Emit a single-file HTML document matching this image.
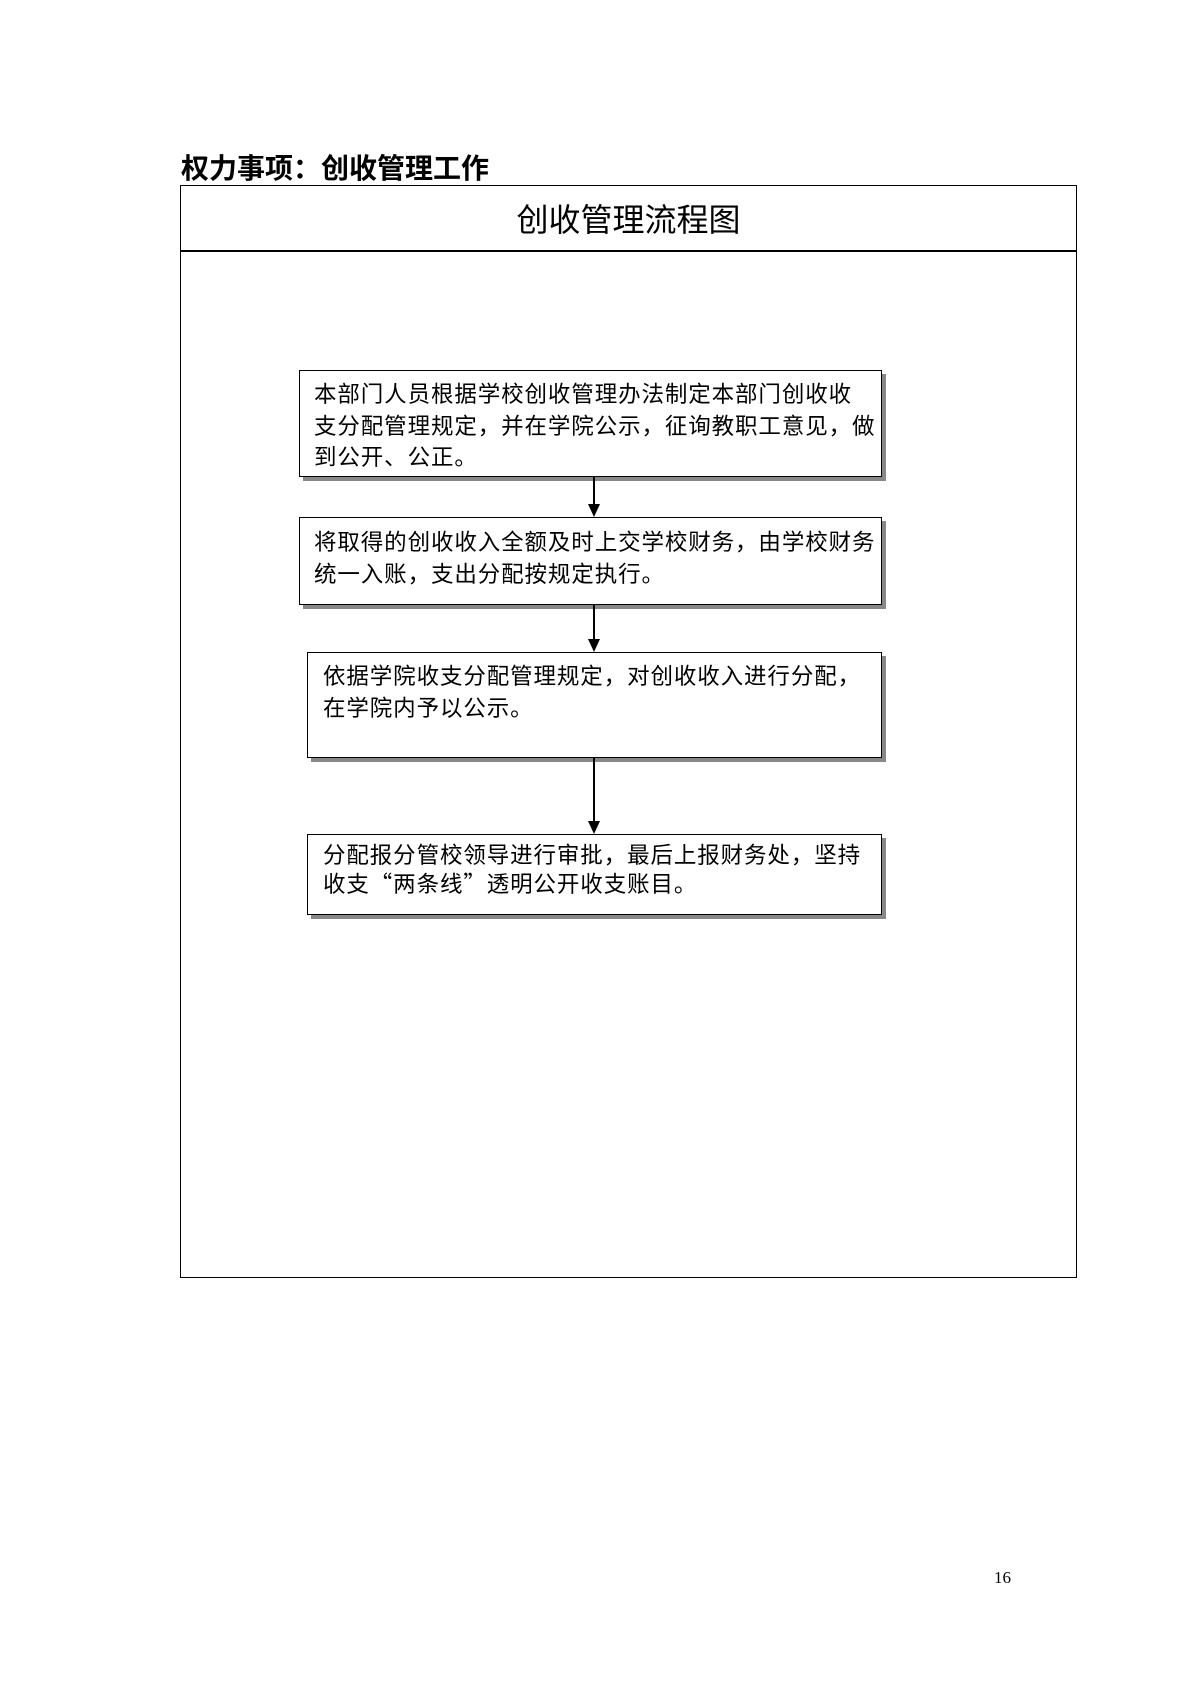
<!DOCTYPE html>
<html><head><meta charset="utf-8"><style>
body{margin:0;background:#fff;}
.p{position:relative;width:1191px;height:1684px;overflow:hidden;font-family:"Liberation Serif","Noto Sans CJK SC",serif;color:#000;}
.a{position:absolute;}
.box{position:absolute;border:1.5px solid #000;background:#fff;box-shadow:4px 4px 0 #888;box-sizing:border-box;}
.t{position:absolute;font-size:22.5px;line-height:31.5px;white-space:nowrap;font-family:"Noto Sans CJK SC",sans-serif;letter-spacing:0;}
.t div{height:31.5px;}
.t span{display:inline-block;width:23.4px;}
.v{position:absolute;left:593px;width:1.5px;background:#000;}
.h{position:absolute;left:588px;width:0;height:0;border-left:6px solid transparent;border-right:6px solid transparent;border-top:13px solid #000;}
</style></head><body><div class="p">
<div class="a" style="left:181px;top:148px;font-size:28px;font-weight:bold;font-family:'Noto Sans CJK SC',sans-serif;line-height:38px;white-space:nowrap;">权力事项：创收管理工作</div>
<div class="a" style="left:180px;top:185px;width:897px;height:1093px;border:1.5px solid #000;box-sizing:border-box;"></div>
<div class="a" style="left:180px;top:250px;width:897px;height:1.5px;background:#000;"></div>
<div class="a" style="left:180px;top:197px;width:897px;text-align:center;font-size:32px;line-height:42px;font-family:'Noto Sans CJK SC',sans-serif;">创收管理流程图</div>

<div class="box" style="left:299px;top:370px;width:583px;height:107px;"></div>
<div class="t" style="left:314px;top:378px;">
<div><span>本</span><span>部</span><span>门</span><span>人</span><span>员</span><span>根</span><span>据</span><span>学</span><span>校</span><span>创</span><span>收</span><span>管</span><span>理</span><span>办</span><span>法</span><span>制</span><span>定</span><span>本</span><span>部</span><span>门</span><span>创</span><span>收</span><span>收</span></div>
<div><span>支</span><span>分</span><span>配</span><span>管</span><span>理</span><span>规</span><span>定</span><span>，</span><span>并</span><span>在</span><span>学</span><span>院</span><span>公</span><span>示</span><span>，</span><span>征</span><span>询</span><span>教</span><span>职</span><span>工</span><span>意</span><span>见</span><span>，</span><span>做</span></div>
<div><span>到</span><span>公</span><span>开</span><span>、</span><span>公</span><span>正</span><span>。</span></div>
</div>
<div class="v" style="top:477px;height:28px;"></div><div class="h" style="top:504px;"></div>

<div class="box" style="left:299px;top:517px;width:583px;height:88px;"></div>
<div class="t" style="left:314px;top:526px;">
<div><span>将</span><span>取</span><span>得</span><span>的</span><span>创</span><span>收</span><span>收</span><span>入</span><span>全</span><span>额</span><span>及</span><span>时</span><span>上</span><span>交</span><span>学</span><span>校</span><span>财</span><span>务</span><span>，</span><span>由</span><span>学</span><span>校</span><span>财</span><span>务</span></div>
<div><span>统</span><span>一</span><span>入</span><span>账</span><span>，</span><span>支</span><span>出</span><span>分</span><span>配</span><span>按</span><span>规</span><span>定</span><span>执</span><span>行</span><span>。</span></div>
</div>
<div class="v" style="top:605px;height:35px;"></div><div class="h" style="top:639px;"></div>

<div class="box" style="left:307px;top:652px;width:575px;height:106px;"></div>
<div class="t" style="left:323px;top:660px;">
<div><span>依</span><span>据</span><span>学</span><span>院</span><span>收</span><span>支</span><span>分</span><span>配</span><span>管</span><span>理</span><span>规</span><span>定</span><span>，</span><span>对</span><span>创</span><span>收</span><span>收</span><span>入</span><span>进</span><span>行</span><span>分</span><span>配</span><span>，</span></div>
<div><span>在</span><span>学</span><span>院</span><span>内</span><span>予</span><span>以</span><span>公</span><span>示</span><span>。</span></div>
</div>
<div class="v" style="top:758px;height:64px;"></div><div class="h" style="top:821px;"></div>

<div class="box" style="left:307px;top:834px;width:575px;height:81px;"></div>
<div class="t" style="left:323px;top:839px;">
<div style="height:29px"><span>分</span><span>配</span><span>报</span><span>分</span><span>管</span><span>校</span><span>领</span><span>导</span><span>进</span><span>行</span><span>审</span><span>批</span><span>，</span><span>最</span><span>后</span><span>上</span><span>报</span><span>财</span><span>务</span><span>处</span><span>，</span><span>坚</span><span>持</span></div>
<div><span>收</span><span>支</span><span>“</span><span>两</span><span>条</span><span>线</span><span>”</span><span>透</span><span>明</span><span>公</span><span>开</span><span>收</span><span>支</span><span>账</span><span>目</span><span>。</span></div>
</div>

<div class="a" style="left:994px;top:1568px;font-size:17px;">16</div>
</div></body></html>
